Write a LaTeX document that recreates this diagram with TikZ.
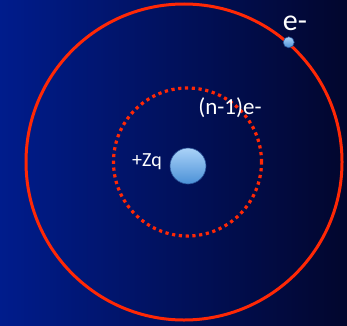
\documentclass[tikz,border=0pt]{standalone}
\usepackage{fontspec}
\setmainfont{Carlito}
\begin{document}
\begin{tikzpicture}[x=1pt,y=1pt,
  orbit/.style={circle,draw=orbitred,line width=3pt,inner sep=0pt},
  shellorbit/.style={circle,draw=orbitred,line width=3.2pt,dash pattern=on 3.2pt off 3.6pt,inner sep=0pt},
  particle/.style={circle,inner sep=0pt,draw=ballrim,line width=0.6pt,top color=balltop,bottom color=ballbot},
  lbl/.style={text=white,inner sep=0pt}]
\definecolor{orbitred}{RGB}{255,40,5}
\definecolor{balltop}{RGB}{170,210,248}
\definecolor{ballbot}{RGB}{75,145,215}
\definecolor{ballrim}{RGB}{40,80,150}
\definecolor{bgleft}{RGB}{0,28,140}
\definecolor{bgmid}{RGB}{0,16,92}
\definecolor{bgright}{RGB}{2,6,45}
\shade[left color=bgleft,middle color=bgmid,right color=bgright] (0,0) rectangle (347,325);
\useasboundingbox (0,0) rectangle (347,325);
\node[orbit,minimum size=316pt] (outer) at (184,163) {};
\node[shellorbit,minimum size=148pt] (inner) at (187.5,163) {};
\node[particle,minimum size=36pt] (nucleus) at (188,159) {};
\node[particle,minimum size=11pt] (electron) at (288.7,282.7) {};
\node[lbl,font=\fontsize{30}{32}\selectfont] (elabel) at (295,302) {e-};
\node[lbl,font=\fontsize{23}{25}\selectfont] (shelllabel) at (230,217) {(n-1)e-};
\node[lbl,font=\fontsize{20}{22}\selectfont] (zlabel) at (147,163) {+Zq};
\end{tikzpicture}
\end{document}
